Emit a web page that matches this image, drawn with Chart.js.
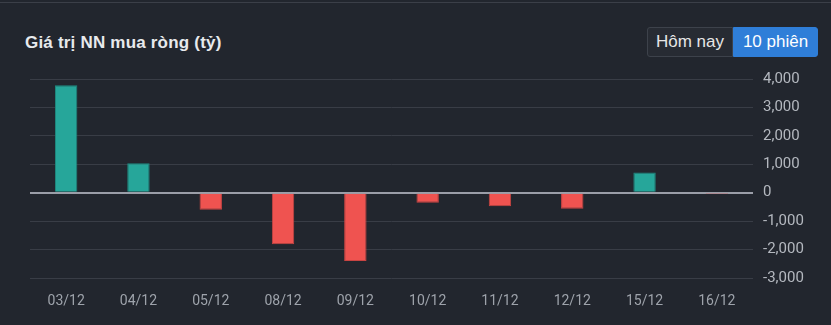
<!DOCTYPE html>
<html>
<head>
<meta charset="utf-8">
<script src="https://cdn.jsdelivr.net/npm/chart.js"></script>
<style>
  html, body { margin: 0; padding: 0; background: #22262e; width: 831px; height: 325px; overflow: hidden; }
  .topline { position: absolute; left: 0; top: 2px; width: 831px; height: 1px; background: #3b3f48; }
  .title { position: absolute; left: 25px; top: 33px; color: #e8eaed; font: bold 17px "Liberation Sans", Arial, sans-serif; letter-spacing: 0.2px; }
  .tabs { position: absolute; left: 647px; top: 27px; height: 30px; display: flex; }
  .tabs div { box-sizing: border-box; height: 30px; padding-top: 4px; line-height: 22px; font: 17px "Liberation Sans", Arial, sans-serif; text-align: center; }
  .tab1 { background: #272b33; border: 1px solid #3d424b; border-radius: 3px 0 0 3px; color: #e6e6e6; width: 86px; }
  .tab2 { background: #2f7ed8; border: 1px solid #2f7ed8; border-radius: 0 3px 3px 0; color: #ffffff; width: 85px; }
  #wrap { position: absolute; left: 0; top: 60px; width: 831px; height: 265px; }
</style>
</head>
<body>
<div class="topline"></div>
<div class="title">Giá trị NN mua ròng (tỷ)</div>
<div class="tabs"><div class="tab1">Hôm nay</div><div class="tab2">10 phiên</div></div>
<div id="wrap"><canvas id="nn-chart"></canvas></div>
<script>
var days = ['03/12', '04/12', '05/12', '08/12', '09/12', '10/12', '11/12', '12/12', '15/12', '16/12'];
var netBuy = [3780, 1040, -600, -1810, -2400, -355, -480, -560, 710, -15]; // tỷ đồng
var yTicks = [-3000, -2000, -1000, 0, 1000, 2000, 3000, 4000];

var ctx = document.getElementById('nn-chart').getContext('2d');
var chart = new Chart(ctx, {
    type: 'bar',
    data: {
        labels: days,
        datasets: [{
            data: netBuy,
            backgroundColor: netBuy.map(function (v) { return v >= 0 ? '#26a69a' : '#ef5350'; }),
            borderColor: netBuy.map(function (v) { return v >= 0 ? '#1e8a80' : '#c94442'; }),
            borderWidth: 1,
            categoryPercentage: 1,
            barPercentage: 0.31
        }]
    },
    options: {
        responsive: true,
        maintainAspectRatio: false,
        animation: false,
        layout: { padding: { top: 16, right: 0, bottom: 0, left: 30 } },
        plugins: { legend: { display: false }, tooltip: { enabled: false } },
        scales: {
            x: {
                grid: { display: false },
                border: { display: false },
                ticks: { color: '#9ea3ab', font: { family: 'Roboto', size: 14 }, padding: 7, maxRotation: 0 },
                afterFit: function (s) { s.height = 47; }
            },
            y: {
                position: 'right',
                min: -3000,
                max: 4000,
                afterBuildTicks: function (s) { s.ticks = yTicks.map(function (v) { return { value: v }; }); },
                grid: {
                    drawTicks: false,
                    color: function (c) { return c.tick && c.tick.value === 0 ? '#9b9ea8' : '#393d46'; },
                    lineWidth: function (c) { return c.tick && c.tick.value === 0 ? 2 : 1; }
                },
                border: { display: false },
                ticks: {
                    color: '#b4b8bf',
                    font: { family: 'Roboto', size: 15 },
                    padding: 10,
                    callback: function (v) { return v.toLocaleString('en-US'); }
                },
                afterFit: function (s) { s.width = 78; }
            }
        }
    }
});
</script>
</body>
</html>
